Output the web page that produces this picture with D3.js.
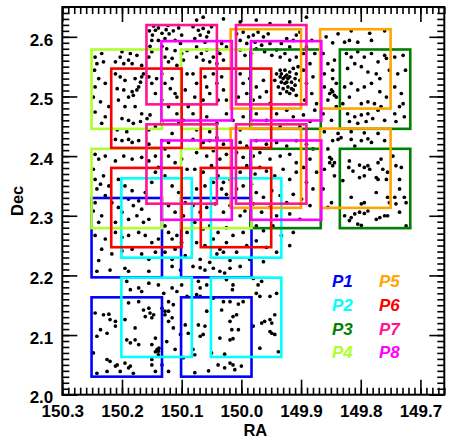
<!DOCTYPE html>
<html><head><meta charset="utf-8">
<script src="https://cdn.jsdelivr.net/npm/d3@7"></script>
<style>body{margin:0;background:#fff}svg{display:block}</style>
</head><body><svg id="c" width="449" height="438"></svg>
<script>
// ---- data ----
const raTicks = [150.3,150.2,150.1,150.0,149.9,149.8,149.7];
const raTickLabels = ["150.3","150.2","150.1","150.0","149.9","149.8","149.7"];
const decTicks = [2.0,2.1,2.2,2.3,2.4,2.5,2.6];
const decTickLabels = ["2.0","2.1","2.2","2.3","2.4","2.5","2.6"];
const raDomain = [150.3,149.66];
const decDomain = [2.0,2.65];
const minorStep = 0.01;

const pointingNames = ["P1","P2","P3","P4","P5","P6","P7","P8"];
const pointingColors = ["#0000ff","#00ffff","#008000","#adff2f","#ffa500","#ff0000","#ff1493","#ff00ff"];
const pointingRA  = [150.117,150.067,149.851,150.117,149.884,150.084,150.025,150.000];
const pointingDec = [2.180,2.213,2.429,2.429,2.463,2.397,2.470,2.443];
const chipOffsetRA = [0.075,-0.075];
const chipOffsetDec = [0.08325,-0.08325];
const chipWidth = 0.118, chipHeight = 0.133;

const sources = [
[150.154,2.610],[150.149,2.603],[150.144,2.611],[150.139,2.615],[150.133,2.606],[150.126,2.612],[150.121,2.605],[150.114,2.610],[150.105,2.615],[150.100,2.603],[150.150,2.594],[150.139,2.594],[150.128,2.597],[150.111,2.594],[150.147,2.618],[150.123,2.619],[150.102,2.589],[150.133,2.584],[150.153,2.584],
[150.245,2.566],[150.242,2.555],[150.246,2.544],[150.234,2.572],[150.231,2.558],[150.239,2.530],[150.245,2.516],[150.228,2.522],[150.248,2.499],[150.236,2.491],[150.245,2.474],[150.228,2.466],[150.234,2.455],[150.222,2.483],
[150.211,2.558],[150.203,2.566],[150.197,2.555],[150.189,2.561],[150.183,2.555],[150.175,2.569],[150.167,2.552],[150.155,2.566],[150.150,2.575],[150.200,2.575],[150.186,2.572],
[150.211,2.538],[150.203,2.533],[150.195,2.527],[150.178,2.530],[150.169,2.524],[150.167,2.533],[150.164,2.538],[150.172,2.516],[150.175,2.511],[150.183,2.508],[150.181,2.502],[150.189,2.499],[150.197,2.511],[150.208,2.513],[150.206,2.494],[150.195,2.483],[150.178,2.483],[150.167,2.471],[150.158,2.463],[150.153,2.469],[150.169,2.458],[150.181,2.455],[150.189,2.460],[150.200,2.463],[150.155,2.533],[150.150,2.522],[150.142,2.530],[150.133,2.538],[150.128,2.522],[150.119,2.513],[150.111,2.505],[150.116,2.530],[150.108,2.499],[150.144,2.505],[150.133,2.494],[150.122,2.483],[150.108,2.471],[150.105,2.455],[150.133,2.458],[150.144,2.449],[150.155,2.444],[150.208,2.444],[150.192,2.441],[150.116,2.438],
[150.097,2.561],[150.091,2.538],[150.094,2.511],[150.089,2.483],[150.097,2.460],
[150.128,2.566],[150.122,2.558],[150.116,2.564],[150.108,2.552],[150.100,2.572],[150.091,2.577],[150.125,2.580],[150.111,2.577],
[150.075,2.628],[150.064,2.633],[150.030,2.630],[150.002,2.625],[149.975,2.628],[149.952,2.622],[149.919,2.625],[149.891,2.633],
[150.081,2.617],[150.072,2.611],[150.064,2.614],[150.055,2.608],[150.069,2.603],[150.058,2.600],[150.050,2.617],[150.078,2.597],[150.061,2.591],
[150.075,2.583],[150.067,2.572],[150.058,2.578],[150.047,2.566],[150.036,2.572],[150.030,2.561],[150.041,2.555],[150.053,2.558],[150.064,2.561],[150.075,2.566],[150.025,2.583],[150.033,2.589],[150.039,2.578],
[150.008,2.605],[149.997,2.608],[149.988,2.600],[149.980,2.603],[149.972,2.608],[149.963,2.600],[149.955,2.605],[150.002,2.594],[149.991,2.589],[149.977,2.591],[149.966,2.586],[149.952,2.589],[150.002,2.578],[149.994,2.569],[149.983,2.572],[149.975,2.580],[149.961,2.575],[149.949,2.569],[149.941,2.578],[149.935,2.566],[149.927,2.572],[149.919,2.583],[149.913,2.594],[149.908,2.603],[149.902,2.608],[149.924,2.597],[149.933,2.589],[149.919,2.561],[149.908,2.566],[149.896,2.572],[149.891,2.583],[149.882,2.594],[149.877,2.572],[149.885,2.555],
[149.941,2.538],[149.935,2.533],[149.930,2.530],[149.924,2.536],[149.919,2.541],[149.913,2.547],[149.908,2.538],[149.933,2.524],[149.927,2.522],[149.922,2.516],[149.916,2.524],[149.910,2.519],[149.938,2.516],[149.930,2.513],[149.924,2.508],[149.919,2.505],[149.913,2.511],[149.908,2.502],[149.944,2.527],[149.935,2.544],[149.927,2.544],[149.902,2.527],[149.905,2.550],[149.922,2.530],[149.933,2.538],[149.927,2.533],[149.919,2.533],[149.924,2.524],[149.916,2.513],[149.935,2.505],[149.910,2.530],
[150.081,2.538],[150.075,2.522],[150.061,2.533],[150.058,2.516],[150.053,2.505],[150.041,2.522],[150.033,2.533],[150.030,2.511],[150.039,2.494],[150.064,2.494],[150.078,2.499],[150.047,2.538],[150.025,2.494],
[150.002,2.538],[149.997,2.522],[149.986,2.530],[149.975,2.516],[149.963,2.527],[149.991,2.505],[149.980,2.494],[149.969,2.499],[149.958,2.508],[150.005,2.499],[149.952,2.488],
[150.081,2.471],[150.069,2.460],[150.058,2.466],[150.041,2.455],[150.025,2.471],[150.014,2.460],[149.997,2.466],[149.975,2.471],[149.958,2.460],[149.941,2.471],[149.924,2.477],[149.913,2.466],[149.896,2.469],[149.885,2.458],[149.877,2.477],[150.075,2.444],[150.053,2.441],[150.002,2.444],[149.935,2.449],[149.902,2.449],
[149.896,2.544],[149.891,2.522],[149.882,2.505],[149.894,2.494],[149.880,2.533],[149.874,2.488],
[149.838,2.605],[149.816,2.610],[149.785,2.606],[149.760,2.610],[149.847,2.590],[149.827,2.591],[149.819,2.594],[149.805,2.591],[149.782,2.594],[149.858,2.600],
[149.863,2.572],[149.855,2.555],[149.844,2.561],[149.861,2.538],[149.847,2.544],[149.841,2.522],[149.849,2.511],[149.844,2.502],[149.855,2.494],[149.863,2.471],[149.849,2.460],[149.841,2.483],[149.861,2.516],[149.847,2.530],[149.847,2.508],[149.841,2.499],[149.852,2.505],
[149.824,2.572],[149.816,2.566],[149.805,2.575],[149.794,2.566],[149.782,2.572],[149.771,2.558],[149.760,2.569],[149.757,2.564],[149.743,2.566],[149.729,2.569],[149.822,2.547],[149.810,2.555],[149.799,2.550],[149.788,2.541],[149.774,2.538],[149.768,2.530],[149.752,2.544],[149.738,2.538],[149.725,2.544],[149.816,2.522],[149.827,2.516],[149.805,2.511],[149.794,2.516],[149.782,2.522],[149.768,2.508],[149.757,2.499],[149.743,2.516],[149.732,2.505],[149.729,2.488],[149.819,2.499],[149.830,2.488],[149.799,2.488],[149.788,2.491],[149.777,2.488],[149.766,2.483],[149.735,2.483],[149.822,2.471],[149.810,2.466],[149.799,2.469],[149.788,2.471],[149.780,2.463],[149.771,2.477],[149.819,2.458],[149.805,2.455],[149.791,2.458],[149.760,2.460],[149.743,2.471],[149.727,2.466],[149.741,2.458],
[149.861,2.441],[149.838,2.438],[149.816,2.441],[149.794,2.439],[149.771,2.438],
[150.211,2.428],[150.200,2.426],[150.189,2.428],[150.183,2.423],[150.172,2.426],[150.155,2.420],[150.133,2.426],[150.122,2.423],
[150.245,2.403],[150.239,2.395],[150.228,2.400],[150.211,2.392],[150.197,2.400],[150.183,2.395],[150.167,2.398],[150.155,2.392],[150.144,2.400],[150.248,2.378],[150.245,2.361],[150.236,2.353],[150.242,2.345],[150.231,2.367],[150.222,2.350],[150.228,2.334],[150.217,2.322],[150.245,2.322],[150.248,2.308],[150.234,2.300],[150.239,2.289],[150.206,2.361],[150.195,2.350],[150.183,2.342],[150.189,2.328],[150.181,2.317],[150.172,2.325],[150.167,2.311],[150.175,2.300],[150.189,2.294],[150.200,2.306],[150.206,2.314],[150.211,2.289],[150.161,2.339],[150.150,2.356],[150.144,2.373],[150.139,2.381],[150.155,2.294],[150.164,2.289],
[150.128,2.412],[150.122,2.400],[150.111,2.389],[150.100,2.395],[150.091,2.378],[150.128,2.367],[150.116,2.350],[150.105,2.339],[150.094,2.322],[150.122,2.317],[150.111,2.306],[150.097,2.300],[150.128,2.283],[150.122,2.272],[150.116,2.261],[150.108,2.267],[150.100,2.255],[150.091,2.272],[150.111,2.244],[150.128,2.239],[150.116,2.227],[150.094,2.233],
[150.245,2.267],[150.228,2.261],[150.211,2.272],[150.200,2.264],[150.189,2.267],[150.172,2.272],[150.161,2.267],[150.150,2.255],[150.139,2.261],[150.234,2.244],[150.217,2.236],[150.200,2.241],[150.183,2.244],[150.167,2.236],[150.144,2.239],[150.239,2.225],[150.155,2.227],
[150.081,2.428],[150.064,2.423],[150.053,2.426],[150.041,2.431],[150.030,2.420],[150.002,2.423],[149.991,2.417],[149.975,2.426],[149.958,2.420],[149.941,2.423],[149.924,2.417],[149.908,2.426],[149.891,2.420],[149.880,2.412],
[150.075,2.406],[150.058,2.400],[150.047,2.409],[150.036,2.395],[150.025,2.403],[150.008,2.406],[149.997,2.398],[149.980,2.400],[149.969,2.406],[149.952,2.395],[149.935,2.400],[149.919,2.403],[149.908,2.389],[149.896,2.381],[149.885,2.395],[149.874,2.373],
[150.078,2.378],[150.064,2.373],[150.050,2.384],[150.039,2.367],[150.030,2.356],[150.019,2.361],[150.002,2.373],[149.991,2.384],[149.977,2.370],[149.969,2.381],[149.958,2.375],[149.944,2.367],[149.930,2.378],[149.919,2.361],[149.908,2.373],[149.891,2.356],[149.880,2.345],
[150.075,2.345],[150.061,2.350],[150.047,2.356],[150.033,2.345],[150.025,2.336],[150.008,2.345],[149.997,2.350],[149.983,2.353],[149.975,2.339],[149.963,2.331],[149.949,2.342],[149.935,2.334],[149.924,2.322],[149.913,2.336],[149.899,2.328],[149.885,2.317],
[150.081,2.317],[150.069,2.306],[150.058,2.314],[150.044,2.320],[150.030,2.306],[150.019,2.317],[150.002,2.300],[149.994,2.308],[149.980,2.320],[149.966,2.306],[149.952,2.314],[149.941,2.300],[149.919,2.303],[149.902,2.294],
[150.078,2.289],[150.064,2.278],[150.053,2.283],[150.039,2.272],[150.025,2.280],[150.014,2.267],[149.997,2.272],[149.975,2.283],[149.963,2.275],[149.947,2.283],[149.933,2.267],[149.913,2.272],
[150.075,2.255],[150.061,2.250],[150.047,2.261],[150.036,2.244],[150.025,2.255],[150.008,2.239],[149.991,2.250],[149.975,2.258],[149.958,2.247],[149.941,2.239],[150.041,2.236],[150.030,2.239],[149.919,2.250],
[150.069,2.227],[150.053,2.222],[150.019,2.225],[149.986,2.227],[149.963,2.223],
[149.847,2.426],[149.838,2.428],[149.833,2.431],[149.855,2.412],[149.849,2.395],[149.852,2.389],[149.847,2.384],[149.861,2.378],[149.844,2.367],[149.863,2.345],[149.849,2.322],[149.855,2.314],[149.852,2.398],[149.844,2.389],
[149.816,2.428],[149.799,2.426],[149.788,2.429],[149.782,2.423],[149.760,2.426],[149.810,2.417],
[149.819,2.392],[149.820,2.381],[149.813,2.375],[149.802,2.385],[149.794,2.381],[149.788,2.384],[149.785,2.378],[149.771,2.389],[149.766,2.395],[149.763,2.378],[149.755,2.373],[149.746,2.400],[149.741,2.384],[149.732,2.381],[149.802,2.364],[149.794,2.367],[149.774,2.364],[149.771,2.361],[149.757,2.361],[149.735,2.361],[149.830,2.359],[149.816,2.331],[149.774,2.339],[149.755,2.331],[149.743,2.331],[149.735,2.345],[149.727,2.331],[149.724,2.322],[149.741,2.320],[149.752,2.322],[149.794,2.322],[149.799,2.320],[149.827,2.300],[149.816,2.297],[149.810,2.303],[149.802,2.306],[149.794,2.304],[149.788,2.308],[149.774,2.294],[149.768,2.297],[149.760,2.300],[149.755,2.300],[149.819,2.292],[149.805,2.286],[149.799,2.284],[149.735,2.306],[149.724,2.283],
[150.242,2.207],[150.220,2.209],[150.195,2.212],[150.189,2.207],[150.155,2.207],[150.116,2.215],[150.102,2.209],
[150.192,2.190],[150.186,2.176],[150.172,2.179],[150.167,2.173],[150.155,2.187],[150.139,2.184],[150.130,2.170],[150.116,2.179],[150.108,2.173],[150.100,2.184],[150.091,2.165],[150.122,2.156],[150.133,2.145],[150.114,2.151],[150.128,2.134],[150.122,2.140],[150.116,2.129],
[150.245,2.137],[150.231,2.134],[150.222,2.135],[150.211,2.123],[150.220,2.126],[150.211,2.115],[150.236,2.109],[150.225,2.103],[150.242,2.098],[150.195,2.126],[150.178,2.112],[150.164,2.142],[150.155,2.145],[150.153,2.137],[150.150,2.129],[150.147,2.134],[150.161,2.131],[150.172,2.156],[150.189,2.154],[150.178,2.092],[150.192,2.092],[150.186,2.087],[150.172,2.084],[150.144,2.095],[150.150,2.084],[150.141,2.076],[150.139,2.073],[150.248,2.070],[150.225,2.059],[150.220,2.056],[150.208,2.050],[150.211,2.048],[150.203,2.039],[150.189,2.045],[150.186,2.048],[150.242,2.036],[150.225,2.039],[150.181,2.036],[150.195,2.053],[150.150,2.059],[150.139,2.067],[150.144,2.072],[150.138,2.078],
[150.128,2.140],[150.122,2.123],[150.114,2.112],[150.102,2.101],[150.094,2.117],[150.089,2.103],[150.125,2.089],[150.111,2.076],[150.097,2.062],[150.133,2.050],[150.122,2.039],[150.150,2.050],[150.144,2.039],
[150.081,2.215],[150.069,2.213],[150.061,2.209],[150.047,2.212],[150.036,2.207],[150.028,2.204],[150.019,2.212],[150.002,2.215],
[150.072,2.190],[150.069,2.179],[150.058,2.184],[150.025,2.193],[150.014,2.184],[150.015,2.176],[149.980,2.195],[149.972,2.184],[149.966,2.190],[149.975,2.170],[149.969,2.165],[149.952,2.165],[149.941,2.170],
[150.075,2.168],[150.069,2.165],[150.047,2.162],[150.030,2.156],[150.033,2.142],[150.019,2.156],[150.005,2.152],[149.997,2.156],[150.058,2.140],[150.014,2.131],[150.008,2.134],
[150.072,2.117],[150.061,2.115],[150.064,2.101],[150.069,2.098],[150.019,2.123],[150.016,2.109],[150.005,2.109],[150.036,2.095],[150.019,2.092],[150.014,2.094],[149.980,2.115],[149.966,2.120],[149.961,2.123],[149.952,2.126],[149.949,2.120],[149.944,2.134],[149.952,2.106],[149.949,2.103],[149.944,2.101],
[150.081,2.076],[150.078,2.067],[150.050,2.070],[150.028,2.068],[149.969,2.078],[149.938,2.072],
[150.039,2.050],[150.028,2.045],[150.019,2.053],[150.014,2.050],[150.000,2.048],[150.055,2.040],[150.078,2.037],[150.011,2.042]
];

// ---- layout ----
const W = 449, H = 438;
const plot = {left: 62.3, top: 7, right: 444.3, bottom: 394.7};
const font = "'Liberation Sans', Arial, Helvetica, sans-serif";

const svg = d3.select("#c");
svg.append("rect").attr("width", W).attr("height", H).attr("fill", "#fff");

const x = d3.scaleLinear().domain(raDomain).range([plot.left, plot.right]);
const y = d3.scaleLinear().domain(decDomain).range([plot.bottom, plot.top]);

// sources
svg.append("g").selectAll("circle").data(sources).join("circle")
  .attr("cx", d => x(d[0])).attr("cy", d => y(d[1]))
  .attr("r", 1.85).attr("fill", "#000");

// chips
const chips = [];
pointingNames.forEach((n, i) => {
  chipOffsetDec.forEach(od => chipOffsetRA.forEach(or => {
    chips.push({i, ra: pointingRA[i] + or, dec: pointingDec[i] + od});
  }));
});
svg.append("g").selectAll("rect").data(chips).join("rect")
  .attr("x", d => x(d.ra + chipWidth / 2))
  .attr("y", d => y(d.dec + chipHeight / 2))
  .attr("width", d => x(d.ra - chipWidth / 2) - x(d.ra + chipWidth / 2))
  .attr("height", d => y(d.dec - chipHeight / 2) - y(d.dec + chipHeight / 2))
  .attr("fill", "none")
  .attr("stroke", d => pointingColors[d.i])
  .attr("stroke-width", 2.6);

// axes
const minorRA = d3.range(150.3, 149.66, -minorStep).map(v => +v.toFixed(2));
const minorDec = d3.range(2.0, 2.6501, minorStep).map(v => +v.toFixed(2));
function styleAxis(g) {
  g.select(".domain").remove();
  g.selectAll("line").attr("stroke", "#000").attr("stroke-width", 1.6);
}
const majorLen = 15, minorLen = 7;
// bottom
svg.append("g").attr("transform", `translate(0,${plot.bottom})`)
  .call(d3.axisBottom(x).tickValues(minorRA).tickSizeInner(-minorLen).tickSizeOuter(0).tickFormat(""))
  .call(styleAxis).selectAll("text").remove();
const xb = svg.append("g").attr("transform", `translate(0,${plot.bottom})`)
  .call(d3.axisBottom(x).tickValues(raTicks).tickSizeInner(-majorLen).tickSizeOuter(0)
    .tickFormat((d, i) => raTickLabels[i]))
  .call(styleAxis);
xb.selectAll("text").attr("y", 22).attr("dy", null)
  .attr("font-family", font).attr("font-weight", "bold").attr("font-size", 17).attr("fill", "#000");
// top
svg.append("g").attr("transform", `translate(0,${plot.top})`)
  .call(d3.axisTop(x).tickValues(minorRA).tickSizeInner(-minorLen).tickSizeOuter(0).tickFormat(""))
  .call(styleAxis).selectAll("text").remove();
svg.append("g").attr("transform", `translate(0,${plot.top})`)
  .call(d3.axisTop(x).tickValues(raTicks).tickSizeInner(-majorLen).tickSizeOuter(0).tickFormat(""))
  .call(styleAxis).selectAll("text").remove();
// left
svg.append("g").attr("transform", `translate(${plot.left},0)`)
  .call(d3.axisLeft(y).tickValues(minorDec).tickSizeInner(-minorLen).tickSizeOuter(0).tickFormat(""))
  .call(styleAxis).selectAll("text").remove();
const yl = svg.append("g").attr("transform", `translate(${plot.left},0)`)
  .call(d3.axisLeft(y).tickValues(decTicks).tickSizeInner(-majorLen).tickSizeOuter(0)
    .tickFormat((d, i) => decTickLabels[i]))
  .call(styleAxis);
yl.selectAll("text").attr("x", -9).attr("dy", null).attr("y", 8.2)
  .attr("font-family", font).attr("font-weight", "bold").attr("font-size", 17).attr("fill", "#000");
// right
svg.append("g").attr("transform", `translate(${plot.right},0)`)
  .call(d3.axisRight(y).tickValues(minorDec).tickSizeInner(-minorLen).tickSizeOuter(0).tickFormat(""))
  .call(styleAxis).selectAll("text").remove();
svg.append("g").attr("transform", `translate(${plot.right},0)`)
  .call(d3.axisRight(y).tickValues(decTicks).tickSizeInner(-majorLen).tickSizeOuter(0).tickFormat(""))
  .call(styleAxis).selectAll("text").remove();

// frame
svg.append("rect").attr("x", plot.left).attr("y", plot.top)
  .attr("width", plot.right - plot.left).attr("height", plot.bottom - plot.top)
  .attr("fill", "none").attr("stroke", "#000").attr("stroke-width", 2);

// axis titles
svg.append("text").attr("x", (plot.left + plot.right) / 2 + 2).attr("y", 436)
  .attr("text-anchor", "middle").attr("font-family", font).attr("font-weight", "bold")
  .attr("font-size", 16.5).text("RA");
svg.append("text").attr("transform", `translate(22.5,${(plot.top + plot.bottom) / 2}) rotate(-90)`)
  .attr("text-anchor", "middle").attr("font-family", font).attr("font-weight", "bold")
  .attr("font-size", 16.5).text("Dec");

// legend
const legendX = [332, 379], legendY0 = 286.7, legendDY = 23.9;
svg.append("g").selectAll("text").data(pointingNames).join("text")
  .attr("x", (d, i) => legendX[Math.floor(i / 4)])
  .attr("y", (d, i) => legendY0 + (i % 4) * legendDY)
  .attr("font-family", font).attr("font-weight", "bold").attr("font-style", "italic")
  .attr("font-size", 17).attr("fill", (d, i) => pointingColors[i]).text(d => d);
</script></body></html>
